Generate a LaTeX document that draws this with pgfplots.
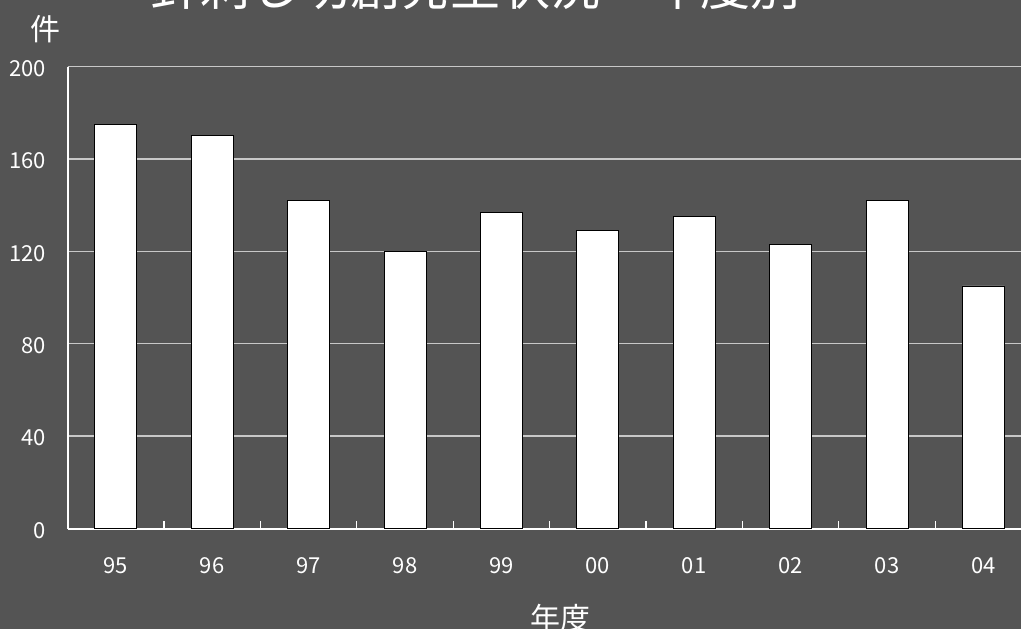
\documentclass[border=0pt]{standalone}
\usepackage{fontspec}
\setmainfont{Noto Sans CJK JP}
\usepackage{pgfplots}
\pgfplotsset{compat=1.18}
\definecolor{bg}{RGB}{84,84,84}
\definecolor{gridc}{RGB}{200,200,200}
\begin{document}
\begin{tikzpicture}
\useasboundingbox (0,0) rectangle (510.5pt,314.5pt);
\fill[bg] (0,0) rectangle (510.5pt,314.5pt);
\begin{axis}[
  at={(33.8pt,50.25pt)}, anchor=south west,
  scale only axis, width=482pt, height=231pt,
  xmin=-0.5, xmax=9.5, ymin=0, ymax=200,
  ybar, bar width=21pt,
  axis x line*=bottom, axis y line*=left,
  axis line style={white, line width=1pt, -},
  ytick={0,40,80,120,160,200},
  ymajorgrids, grid style={gridc, line width=0.7pt},
  xtick={0,1,2,3,4,5,6,7,8,9},
  xticklabels={95,96,97,98,99,00,01,02,03,04},
  minor xtick={0.5,1.5,2.5,3.5,4.5,5.5,6.5,7.5,8.5},
  major tick length=0pt, minor tick length=4pt, tick align=inside,
  minor tick style={white, line width=0.6pt},
  /pgf/number format/assume math mode=true,
  ticklabel style={text=white, font=\fontsize{11}{13}\selectfont, inner sep=0pt},
  xticklabel style={anchor=center, yshift=-18.5pt},
  yticklabel style={anchor=east, xshift=-10.5pt, yshift=-1pt},
  clip=false,
]
\addplot[fill=white, draw=black, line width=0.4pt, bar shift=0pt] coordinates {
  (0,175) (1,170) (2,142) (3,120) (4,137) (5,129) (6,135) (7,123) (8,142) (9,105)
};
\end{axis}
\node[text=white, inner sep=0pt] at (22.5pt,300pt) {\fontsize{15}{18}\selectfont 件};
\node[text=white, inner sep=0pt] at (280pt,5.5pt) {\fontsize{15}{18}\selectfont 年度};
\node[text=white, inner sep=0pt] at (237.5pt,321pt) {\fontsize{25}{30}\selectfont 針刺し切創発生状況・年度別};
\end{tikzpicture}
\end{document}
